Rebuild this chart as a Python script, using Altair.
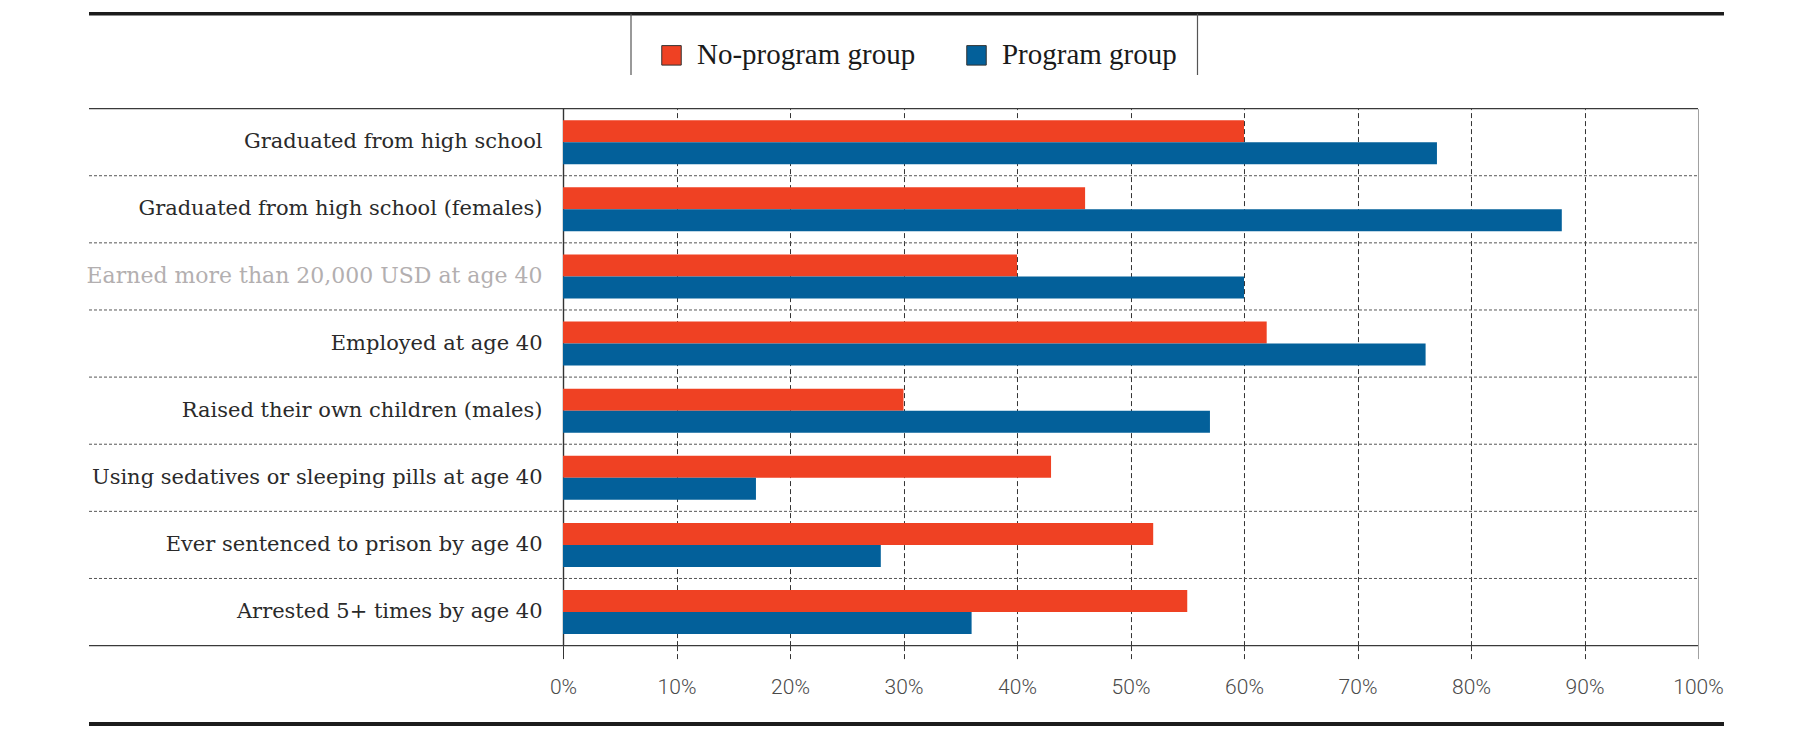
import altair as alt
import pandas as pd

categories = [
    "Graduated from high school",
    "Graduated from high school (females)",
    "Earned more than 20,000 USD at age 40",
    "Employed at age 40",
    "Raised their own children (males)",
    "Using sedatives or sleeping pills at age 40",
    "Ever sentenced to prison by age 40",
    "Arrested 5+ times by age 40",
]
no_program = [60, 46, 40, 62, 30, 43, 52, 55]
program = [77, 88, 60, 76, 57, 17, 28, 36]
groups = ["No-program group", "Program group"]
colors = ["#EF4123", "#03609A"]
tick_values = [0, 10, 20, 30, 40, 50, 60, 70, 80, 90, 100]
highlight = "Earned more than 20,000 USD at age 40"

rows = []
for c, a, b in zip(categories, no_program, program):
    rows.append({"category": c, "group": groups[0], "value": a})
    rows.append({"category": c, "group": groups[1], "value": b})
df = pd.DataFrame(rows)

W, H = 1135, 537
LEFT = -474
one = pd.DataFrame({"k": [0]})

yscale = alt.Scale(domain=categories, paddingInner=0, paddingOuter=0)

edge = "datum.value === 0 || datum.value === 100"
is_hl = f"datum.value === '{highlight}'"

yaxis = alt.Axis(
    title=None,
    domain=False,
    ticks=False,
    grid=False,
    labelLimit=600,
    labelPadding=21,
    labelFont="DejaVu Serif",
    labelFontSize={"condition": {"test": is_hl, "value": 22}, "value": 21},
    labelColor={"condition": {"test": is_hl, "value": "#b3afb0"}, "value": "#2a2a2a"},
)

bars = alt.Chart(df).mark_bar().encode(
    x=alt.X(
        "value:Q",
        scale=alt.Scale(domain=[0, 100], nice=False, zero=True),
        axis=alt.Axis(
            values=tick_values,
            labelExpr="datum.value + '%'",
            title=None,
            domain=False,
            grid=True,
            gridColor={"condition": {"test": "datum.value === 100", "value": "#a0a0a0"}, "value": "#333333"},
            gridDash={"condition": {"test": edge, "value": []}, "value": [5, 3]},
            gridWidth={"condition": {"test": "datum.value === 0", "value": 1.4}, "value": 1},
            ticks=True,
            tickSize=13,
            tickColor={"condition": {"test": "datum.value === 100", "value": "#a0a0a0"}, "value": "#333333"},
            tickDash={"condition": {"test": edge, "value": []}, "value": [5, 3]},
            tickWidth=1,
            labelFont="Roboto",
            labelFontWeight=300,
            labelFontSize=21,
            labelColor="#4a4a4a",
            labelPadding=18,
            labelFlush=False,
            labelOverlap=False,
            labelBound=False,
        ),
    ),
    y=alt.Y("category:N", sort=categories, scale=yscale, axis=yaxis),
    yOffset=alt.YOffset(
        "group:N",
        sort=groups,
        scale=alt.Scale(domain=groups, paddingInner=0, paddingOuter=0.525),
    ),
    color=alt.Color(
        "group:N",
        scale=alt.Scale(domain=groups, range=colors),
        legend=alt.Legend(
            title=None,
            orient="none",
            legendX=94,
            legendY=-68,
            direction="horizontal",
            symbolType="square",
            symbolSize=380,
            symbolStrokeColor="#333333",
            symbolStrokeWidth=1,
            symbolOpacity=1,
            labelFont="Liberation Serif",
            labelFontSize=29,
            labelColor="#1a1a1a",
            labelOffset=11,
            columnPadding=46,
            padding=0,
            labelLimit=400,
        ),
    ),
)

sep_df = pd.DataFrame({"category": categories[1:]})
seps = alt.Chart(sep_df).mark_rule(color="#555555", strokeDash=[3, 2], strokeWidth=1).encode(
    y=alt.Y("category:N", sort=categories, scale=yscale, bandPosition=0, axis=yaxis),
    x=alt.value(LEFT),
    x2=alt.value(W),
)


def hline(y, x1, x2, color, width):
    return alt.Chart(one).mark_rule(color=color, strokeWidth=width).encode(
        y=alt.value(y), x=alt.value(x1), x2=alt.value(x2)
    )


def vline(x, y1, y2, color, width):
    return alt.Chart(one).mark_rule(color=color, strokeWidth=width).encode(
        x=alt.value(x), y=alt.value(y1), y2=alt.value(y2)
    )


frame = [
    hline(-94.9, LEFT, 1161, "#1c1c1c", 3.5),
    hline(615.4, LEFT, 1161, "#1c1c1c", 4),
    hline(0, LEFT, W, "#3a3a3a", 1.3),
    hline(H, LEFT, W, "#3a3a3a", 1.3),
    vline(68, -94.9, -33.6, "#555555", 1.2),
    vline(634.5, -94.9, -33.6, "#555555", 1.2),
]

chart = alt.layer(seps, bars, *frame).properties(
    width=W,
    height=H,
    autosize=alt.AutoSizeParams(type="none"),
    padding={"left": 555, "top": 100.6, "right": 85, "bottom": 82},
    background="white",
).configure_view(stroke=None)

chart.save("out.html", embed_options={"renderer": "svg", "actions": False})
